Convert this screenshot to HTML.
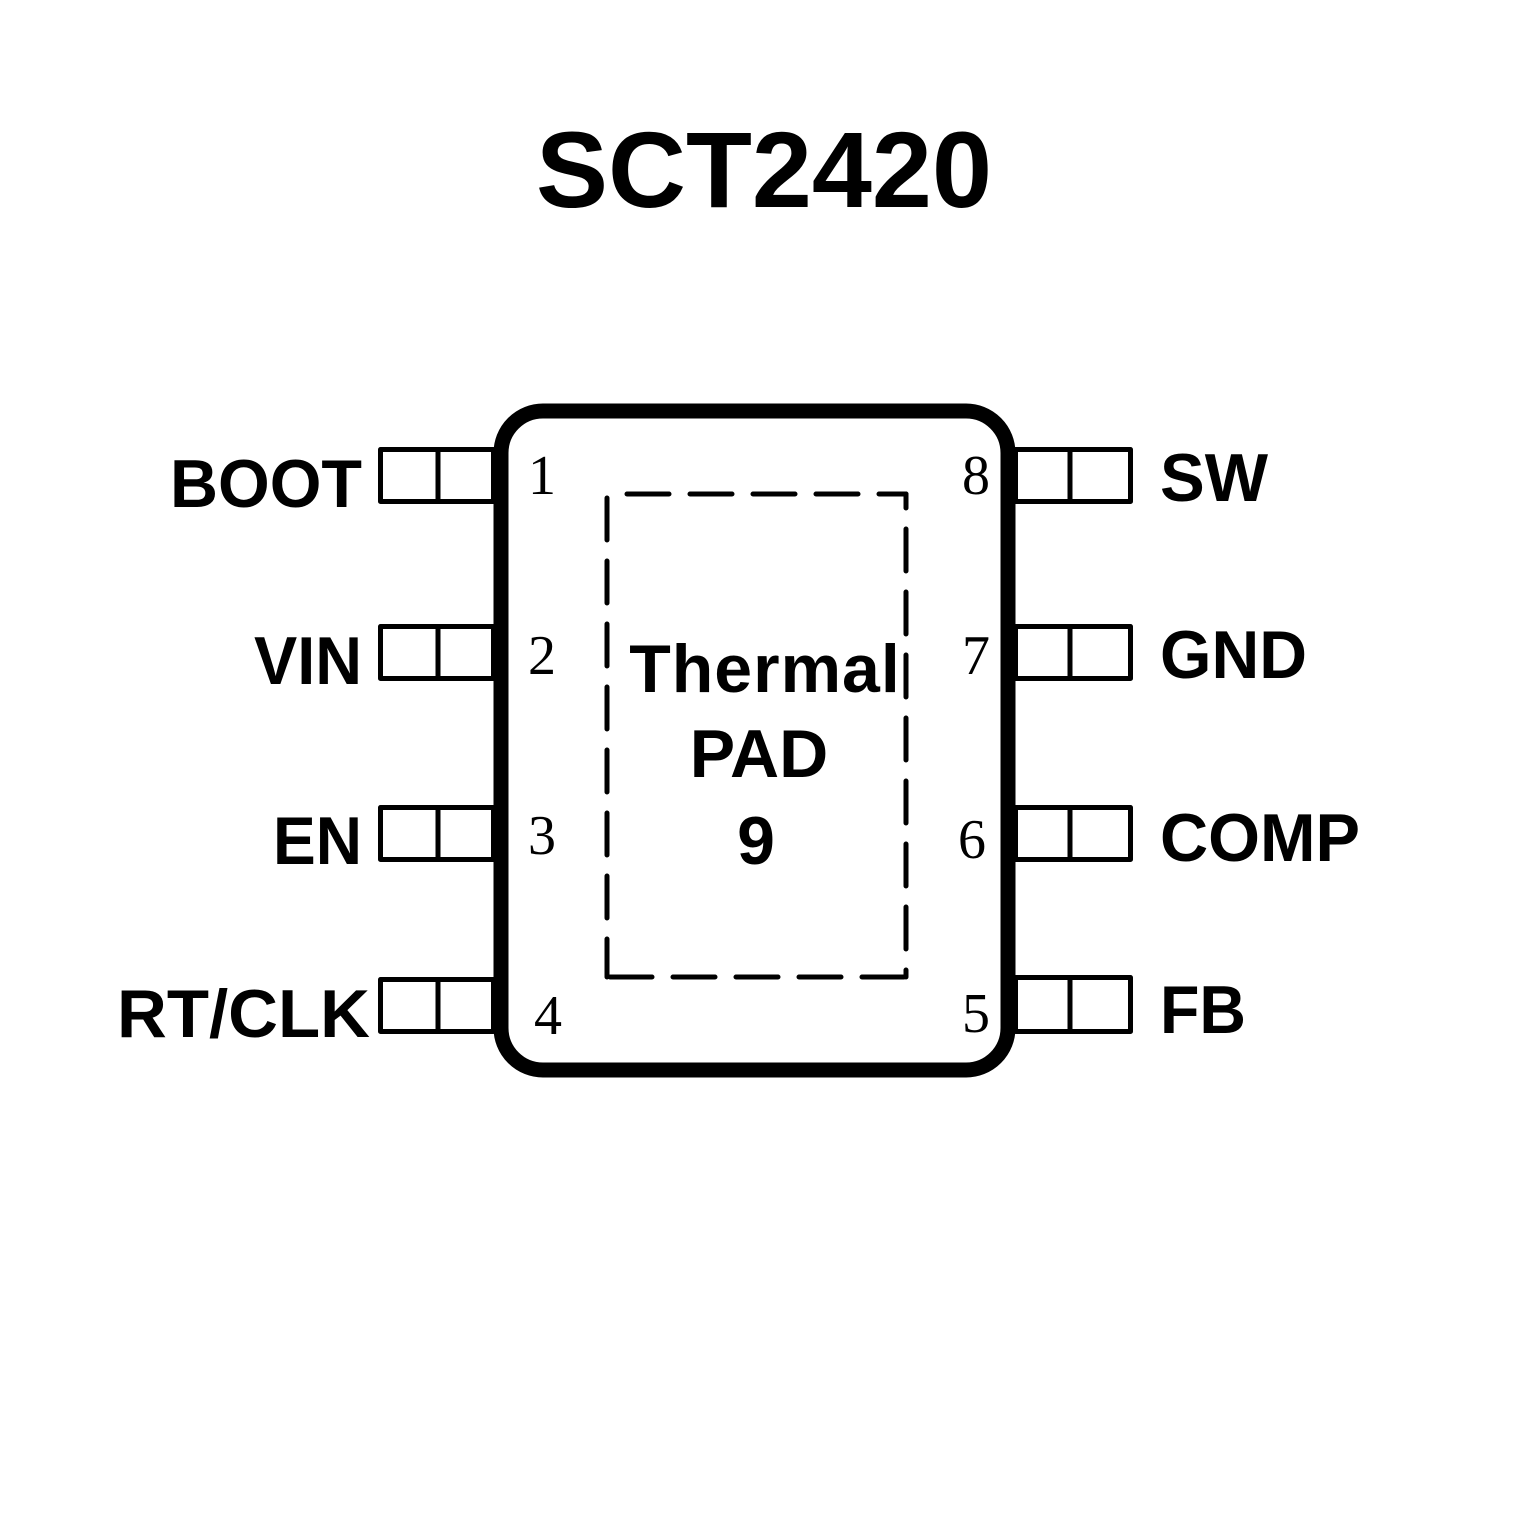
<!DOCTYPE html>
<html><head><meta charset="utf-8"><style>html,body{margin:0;padding:0;background:#fff}</style></head><body>
<svg width="1535" height="1535" viewBox="0 0 1535 1535" xmlns="http://www.w3.org/2000/svg">
<rect width="1535" height="1535" fill="#fff"/>
<text x="764" y="207" text-anchor="middle" font-family="Liberation Sans, sans-serif" font-weight="bold" font-size="108" fill="#000" textLength="456" lengthAdjust="spacingAndGlyphs">SCT2420</text>
<rect x="501" y="411" width="507" height="659" rx="42" ry="42" fill="none" stroke="#000" stroke-width="15"/>
<g fill="none" stroke="#000" stroke-width="5" stroke-linejoin="round">
<rect x="380.5" y="449.5" width="113" height="52"/><line x1="438" y1="449" x2="438" y2="502"/>
<rect x="380.5" y="626.5" width="113" height="52"/><line x1="438" y1="626" x2="438" y2="679"/>
<rect x="380.5" y="807.5" width="113" height="52"/><line x1="438" y1="807" x2="438" y2="860"/>
<rect x="380.5" y="979.5" width="113" height="52"/><line x1="438" y1="979" x2="438" y2="1032"/>
<rect x="1015.5" y="449.5" width="115" height="52"/><line x1="1070" y1="449" x2="1070" y2="502"/>
<rect x="1015.5" y="626.5" width="115" height="52"/><line x1="1070" y1="626" x2="1070" y2="679"/>
<rect x="1015.5" y="807.5" width="115" height="52"/><line x1="1070" y1="807" x2="1070" y2="860"/>
<rect x="1015.5" y="977.5" width="115" height="54"/><line x1="1070" y1="977" x2="1070" y2="1032"/>
</g>
<g stroke="#000" stroke-width="5" stroke-linecap="round" fill="none" stroke-dasharray="42 21">
<line x1="627" y1="494" x2="906" y2="494"/>
<line x1="607" y1="498" x2="607" y2="977"/>
<line x1="906" y1="494" x2="906" y2="977" stroke-dashoffset="28"/>
<line x1="610" y1="977" x2="906" y2="977"/>
</g>
<g font-family="Liberation Sans, sans-serif" font-weight="bold" font-size="68" fill="#000">
<text x="170" y="507" textLength="192" lengthAdjust="spacingAndGlyphs">BOOT</text>
<text x="254" y="684" textLength="108" lengthAdjust="spacingAndGlyphs">VIN</text>
<text x="273" y="864" textLength="89" lengthAdjust="spacingAndGlyphs">EN</text>
<text x="117" y="1037" textLength="253" lengthAdjust="spacingAndGlyphs">RT/CLK</text>
<text x="1160" y="501" textLength="108" lengthAdjust="spacingAndGlyphs">SW</text>
<text x="1160" y="678" textLength="147" lengthAdjust="spacingAndGlyphs">GND</text>
<text x="1160" y="861" textLength="200" lengthAdjust="spacingAndGlyphs">COMP</text>
<text x="1160" y="1033" textLength="86" lengthAdjust="spacingAndGlyphs">FB</text>
</g>
<g font-family="Liberation Serif, serif" font-size="56" fill="#000">
<text x="528" y="494">1</text>
<text x="528" y="674">2</text>
<text x="528" y="854">3</text>
<text x="534" y="1034">4</text>
<text x="962" y="494">8</text>
<text x="962" y="674">7</text>
<text x="958" y="858">6</text>
<text x="962" y="1032">5</text>
</g>
<g font-family="Liberation Sans, sans-serif" font-weight="bold" font-size="68" fill="#000" text-anchor="middle">
<text x="765" y="692" letter-spacing="1">Thermal</text>
<text x="759" y="777">PAD</text>
<text x="756" y="864">9</text>
</g>
</svg>
</body></html>
